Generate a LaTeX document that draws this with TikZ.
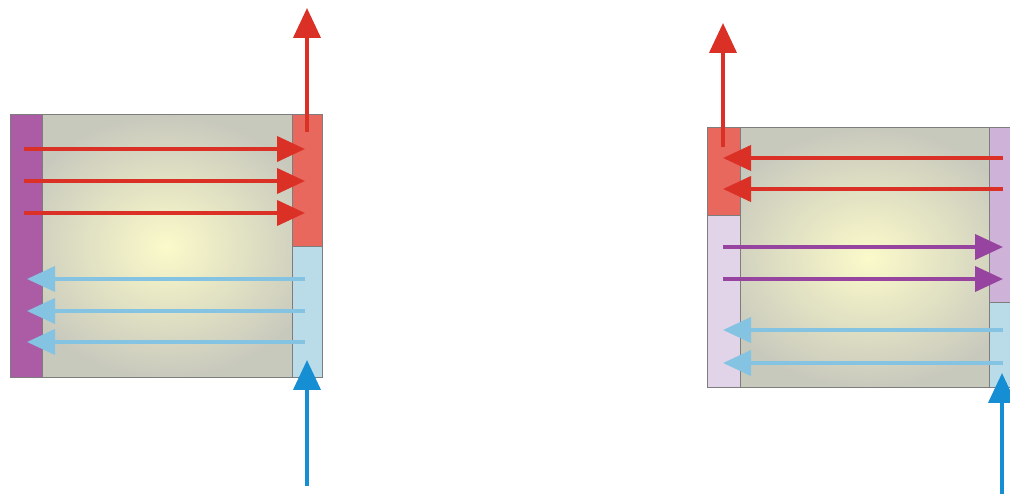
\documentclass[tikz,border=0pt]{standalone}
\usetikzlibrary{arrows.meta}
\definecolor{frame}{RGB}{125,125,125}
\definecolor{coreIn}{RGB}{251,250,202}
\definecolor{coreOut}{RGB}{200,201,189}
\definecolor{plum}{RGB}{172,92,165}
\definecolor{hotpad}{RGB}{232,104,94}
\definecolor{coldpad}{RGB}{186,220,232}
\definecolor{lilac}{RGB}{226,212,232}
\definecolor{mauve}{RGB}{206,178,216}
\definecolor{hotline}{RGB}{218,48,38}
\definecolor{coldline}{RGB}{132,196,226}
\definecolor{feedline}{RGB}{22,142,212}
\definecolor{purpline}{RGB}{150,68,160}
\tikzset{
  core/.style={draw=frame, line width=1pt, inner color=coreIn, outer color=coreOut},
  pad/.style={draw=frame, line width=1pt},
  flow/.style={line width=4pt, -{Triangle[length=28pt,width=25pt]}},
  riser/.style={line width=4pt, -{Triangle[length=30pt,width=27pt]}},
}
\begin{document}
\begin{tikzpicture}[x=1pt,y=-1pt]
\useasboundingbox (0,0) rectangle (1010,494);
\clip (0,0) rectangle (1010,494);

% ---------- left unit ----------
\path[core] (10,115) rectangle (322,378);
\path[pad, fill=plum] (10,115) rectangle (42,378);
\path[pad, fill=hotpad] (292,115) rectangle (322,247);
\path[pad, fill=coldpad] (292,247) rectangle (322,378);

\foreach \y [count=\i] in {149,181,213} {
  \coordinate (La\i) at (24,\y);
  \coordinate (Lb\i) at (305,\y);
  \draw[flow, hotline] (La\i) -- (Lb\i);
}
\foreach \y [count=\i] in {279,311,342} {
  \coordinate (Lc\i) at (305,\y);
  \coordinate (Ld\i) at (27,\y);
  \draw[flow, coldline] (Lc\i) -- (Ld\i);
}
\coordinate (Lout0) at (307,132);
\coordinate (Lout1) at (307,8);
\draw[riser, hotline] (Lout0) -- (Lout1);
\coordinate (Lin0) at (307,486);
\coordinate (Lin1) at (307,360);
\draw[riser, feedline] (Lin0) -- (Lin1);

% ---------- right unit ----------
\path[core] (707,128) rectangle (1030,388);
\path[pad, fill=lilac] (707,128) rectangle (740,388);
\path[pad, fill=hotpad] (707,128) rectangle (740,216);
\path[pad, fill=mauve] (989,128) rectangle (1030,303);
\path[pad, fill=coldpad] (989,303) rectangle (1030,388);

\foreach \y [count=\i] in {158,189} {
  \coordinate (Ra\i) at (1003,\y);
  \coordinate (Rb\i) at (723,\y);
  \draw[flow, hotline] (Ra\i) -- (Rb\i);
}
\foreach \y [count=\i] in {247,279} {
  \coordinate (Rc\i) at (723,\y);
  \coordinate (Rd\i) at (1003,\y);
  \draw[flow, purpline] (Rc\i) -- (Rd\i);
}
\foreach \y [count=\i] in {330,363} {
  \coordinate (Re\i) at (1003,\y);
  \coordinate (Rf\i) at (723,\y);
  \draw[flow, coldline] (Re\i) -- (Rf\i);
}
\coordinate (Rout0) at (723,147);
\coordinate (Rout1) at (723,23);
\draw[riser, hotline] (Rout0) -- (Rout1);
\coordinate (Rin0) at (1002,500);
\coordinate (Rin1) at (1002,373);
\draw[riser, feedline] (Rin0) -- (Rin1);
\end{tikzpicture}
\end{document}
